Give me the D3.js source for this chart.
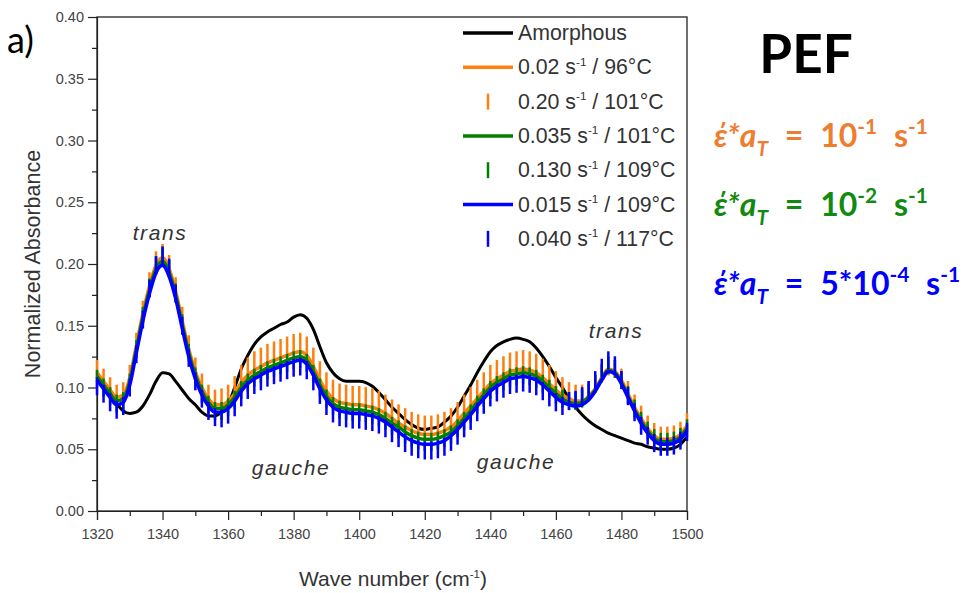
<!DOCTYPE html>
<html><head><meta charset="utf-8">
<script src="https://cdn.jsdelivr.net/npm/d3@7"></script>
<style>body{margin:0;background:#fff}svg{display:block}</style>
</head><body><svg id="c" width="976" height="593"></svg>
<script>
// sampling grid of the spectra (cm^-1)
const wavenumbers = d3.range(1320, 1501, 2);

const amorphous = [0.107,0.101,0.094,0.087,0.081,0.079,0.080,0.085,0.094,0.105,0.112,0.111,0.105,0.098,0.091,0.086,0.080,0.077,0.077,0.080,
0.086,0.100,0.115,0.126,0.135,0.141,0.145,0.148,0.151,0.153,0.157,0.159,0.156,0.147,0.133,0.120,0.112,0.107,0.105,0.105,
0.105,0.104,0.101,0.096,0.090,0.084,0.079,0.074,0.070,0.067,0.066,0.067,0.068,0.072,0.077,0.084,0.093,0.102,0.112,0.121,
0.129,0.134,0.137,0.139,0.140,0.139,0.137,0.132,0.125,0.117,0.108,0.100,0.091,0.084,0.078,0.073,0.069,0.066,0.063,0.061,
0.059,0.057,0.055,0.054,0.052,0.051,0.050,0.050,0.051,0.054,0.060];

const orangeLine = [0.112,0.105,0.098,0.092,0.094,0.108,0.134,0.160,0.182,0.199,0.205,0.196,0.178,0.154,0.131,0.113,0.100,0.091,0.086,0.086,
0.089,0.095,0.104,0.110,0.114,0.117,0.120,0.122,0.124,0.126,0.128,0.129,0.126,0.117,0.106,0.097,0.091,0.088,0.087,0.086,
0.086,0.085,0.084,0.082,0.079,0.075,0.071,0.068,0.065,0.063,0.062,0.062,0.063,0.065,0.068,0.073,0.079,0.085,0.091,0.097,
0.103,0.107,0.110,0.113,0.114,0.115,0.114,0.112,0.108,0.103,0.098,0.094,0.091,0.089,0.089,0.093,0.099,0.108,0.115,0.113,
0.106,0.095,0.084,0.075,0.067,0.061,0.058,0.058,0.059,0.062,0.069];

const orangeTicks = [0.115,0.108,0.101,0.095,0.097,0.111,0.137,0.163,0.186,0.203,0.209,0.200,0.182,0.158,0.135,0.117,0.104,0.095,0.091,0.092,
0.095,0.102,0.111,0.117,0.122,0.125,0.128,0.130,0.132,0.134,0.136,0.137,0.134,0.125,0.114,0.105,0.099,0.096,0.095,0.094,
0.094,0.093,0.092,0.090,0.087,0.083,0.079,0.076,0.073,0.071,0.070,0.070,0.071,0.073,0.076,0.081,0.087,0.093,0.099,0.105,
0.111,0.115,0.118,0.121,0.122,0.123,0.122,0.120,0.116,0.111,0.106,0.101,0.097,0.095,0.095,0.098,0.103,0.111,0.117,0.115,
0.108,0.098,0.087,0.078,0.070,0.064,0.061,0.061,0.062,0.065,0.072];

const greenLine = [0.109,0.102,0.095,0.089,0.091,0.105,0.131,0.157,0.179,0.196,0.202,0.193,0.175,0.151,0.128,0.110,0.097,0.088,0.083,0.083,
0.086,0.092,0.100,0.106,0.110,0.113,0.116,0.118,0.120,0.122,0.124,0.125,0.122,0.113,0.102,0.093,0.087,0.084,0.083,0.082,
0.082,0.081,0.080,0.078,0.075,0.071,0.068,0.064,0.061,0.059,0.058,0.058,0.059,0.061,0.064,0.069,0.075,0.081,0.088,0.094,
0.100,0.104,0.107,0.110,0.111,0.112,0.111,0.109,0.105,0.100,0.095,0.091,0.088,0.087,0.088,0.092,0.098,0.107,0.114,0.112,
0.104,0.093,0.082,0.073,0.065,0.059,0.056,0.056,0.057,0.060,0.067];

const greenTicks = [0.107,0.100,0.093,0.087,0.089,0.104,0.131,0.158,0.181,0.199,0.206,0.196,0.177,0.152,0.128,0.109,0.095,0.086,0.081,0.081,
0.084,0.090,0.098,0.104,0.108,0.111,0.114,0.116,0.118,0.120,0.122,0.123,0.120,0.111,0.100,0.091,0.085,0.082,0.081,0.080,
0.080,0.079,0.078,0.076,0.073,0.069,0.066,0.062,0.059,0.057,0.056,0.056,0.057,0.059,0.062,0.067,0.073,0.079,0.086,0.092,
0.098,0.102,0.105,0.108,0.109,0.110,0.109,0.107,0.103,0.099,0.094,0.091,0.089,0.089,0.091,0.096,0.103,0.112,0.118,0.115,
0.106,0.094,0.083,0.073,0.065,0.059,0.056,0.056,0.057,0.060,0.067];

const blueLine = [0.106,0.099,0.092,0.086,0.088,0.102,0.128,0.154,0.176,0.193,0.199,0.190,0.172,0.148,0.125,0.107,0.094,0.085,0.080,0.080,
0.083,0.089,0.097,0.103,0.107,0.110,0.113,0.115,0.117,0.119,0.121,0.122,0.119,0.110,0.099,0.090,0.084,0.081,0.080,0.079,
0.079,0.078,0.077,0.075,0.072,0.068,0.064,0.060,0.057,0.055,0.054,0.054,0.055,0.057,0.061,0.066,0.072,0.078,0.085,0.091,
0.097,0.101,0.104,0.107,0.108,0.109,0.108,0.106,0.102,0.097,0.092,0.088,0.086,0.085,0.086,0.090,0.097,0.106,0.113,0.111,
0.103,0.092,0.081,0.071,0.063,0.057,0.054,0.054,0.055,0.058,0.065];

const blueTicks = [0.101,0.095,0.088,0.082,0.085,0.100,0.127,0.155,0.180,0.199,0.207,0.197,0.176,0.150,0.124,0.105,0.091,0.081,0.076,0.075,
0.078,0.084,0.092,0.098,0.102,0.105,0.108,0.110,0.112,0.114,0.116,0.117,0.114,0.105,0.094,0.085,0.079,0.076,0.075,0.074,
0.074,0.073,0.072,0.070,0.067,0.063,0.059,0.055,0.052,0.050,0.049,0.049,0.050,0.052,0.056,0.061,0.067,0.073,0.080,0.086,
0.092,0.096,0.099,0.102,0.103,0.104,0.103,0.101,0.097,0.092,0.088,0.085,0.089,0.090,0.093,0.098,0.106,0.116,0.122,0.118,
0.106,0.093,0.080,0.069,0.061,0.055,0.052,0.052,0.053,0.057,0.064];

const legendLabels = [
  [["Amorphous"]],
  [["0.02 s"],["-1","sup"],[" / 96°C"]],
  [["0.20 s"],["-1","sup"],[" / 101°C"]],
  [["0.035 s"],["-1","sup"],[" / 101°C"]],
  [["0.130 s"],["-1","sup"],[" / 109°C"]],
  [["0.015 s"],["-1","sup"],[" / 109°C"]],
  [["0.040 s"],["-1","sup"],[" / 117°C"]]
];
const seriesColors = ["#000000","#FF7F0E","#FF7F0E","#008000","#008000","#0000FF","#0000FF"];
const seriesKinds = ["line","line","ticks","line","ticks","line","ticks"];
const seriesValues = [amorphous, orangeLine, orangeTicks, greenLine, greenTicks, blueLine, blueTicks];

const yTicks = [0,0.05,0.10,0.15,0.20,0.25,0.30,0.35,0.40];
const xTicks = [1320,1340,1360,1380,1400,1420,1440,1460,1480,1500];

const svg = d3.select("#c");
const x = d3.scaleLinear().domain([1320,1500]).range([97,687]);
const y = d3.scaleLinear().domain([0,0.4]).range([511,17]);
const font = "'Liberation Sans', Arial, sans-serif";
const txt = "#333";

// axes
const yMinor = d3.range(0.025,0.4,0.05);
const xMinor = d3.range(1330,1500,20);
const gy = svg.append("g").attr("transform","translate(97,0)");
gy.call(d3.axisLeft(y).tickValues(yTicks).tickFormat(d3.format(".2f")).tickSize(9).tickPadding(4));
const gym = svg.append("g").attr("transform","translate(97,0)");
gym.call(d3.axisLeft(y).tickValues(yMinor).tickFormat("").tickSize(5));
gym.select(".domain").remove();
const gx = svg.append("g").attr("transform","translate(0,511)");
gx.call(d3.axisBottom(x).tickValues(xTicks).tickFormat(d3.format("d")).tickSize(9).tickPadding(9));
const gxm = svg.append("g").attr("transform","translate(0,511)");
gxm.call(d3.axisBottom(x).tickValues(xMinor).tickFormat("").tickSize(5));
gxm.select(".domain").remove();
svg.selectAll(".tick text").attr("font-family",font).attr("font-size",14.5).attr("fill","#444");
svg.selectAll(".tick line, .domain").attr("stroke","#222").attr("stroke-width",1.2);
svg.append("rect").attr("x",x(1320)).attr("y",y(0.4)).attr("width",x(1500)-x(1320)).attr("height",y(0)-y(0.4))
  .attr("fill","none").attr("stroke","#222").attr("stroke-width",1.3);

// series
const plot = svg.append("g");
const line = d3.line().x((d,i)=>x(wavenumbers[i])).y(d=>y(d)).curve(d3.curveMonotoneX);
seriesValues.forEach((vals,k)=>{
  if (seriesKinds[k]==="line") {
    plot.append("path").datum(vals).attr("d",line).attr("fill","none")
      .attr("stroke",seriesColors[k]).attr("stroke-width",k===0?3:3.5).attr("stroke-linejoin","round");
  } else {
    plot.append("g").selectAll("line").data(vals).join("line")
      .attr("x1",(d,i)=>x(wavenumbers[i])).attr("x2",(d,i)=>x(wavenumbers[i]))
      .attr("y1",d=>y(d)-9).attr("y2",d=>y(d)+9)
      .attr("stroke",seriesColors[k]).attr("stroke-width",2.5);
  }
});

// rich text helper
function rich(sel, parts, xx, yy, size, attrs, supScale) {
  const sc = supScale || 0.6;
  const t = sel.append("text").attr("x",xx).attr("y",yy).attr("font-size",size);
  Object.entries(attrs||{}).forEach(([a,v])=>t.attr(a,v));
  let shift = 0;
  parts.forEach(p=>{
    const kind = p[1];
    const s = kind==="sup" ? -size*0.4 : kind==="sub" ? size*0.28 : 0;
    const ts = t.append("tspan").attr("dy", s-shift).text(p[0]);
    if (kind==="sup"||kind==="sub") ts.attr("font-size", size*sc);
    if (p[2]) ts.attr("font-style","italic");
    shift = s;
  });
  return t;
}

// legend
const lg = svg.append("g");
legendLabels.forEach((lab,i)=>{
  const cy = 33 + i*34.3;
  if (seriesKinds[i]==="line") {
    lg.append("line").attr("x1",463).attr("x2",513).attr("y1",cy).attr("y2",cy)
      .attr("stroke",seriesColors[i]).attr("stroke-width",3.5);
  } else {
    lg.append("line").attr("x1",488).attr("x2",488).attr("y1",cy-8).attr("y2",cy+8)
      .attr("stroke",seriesColors[i]).attr("stroke-width",2.5);
  }
  rich(lg, lab, 518, cy+7, 21.3, {"font-family":font,"fill":txt}, 0.55);
});

// annotations
const ann = [["trans",160,240],["gauche",291,475],["gauche",516,469],["trans",616,338]];
ann.forEach(a=>svg.append("text").attr("x",a[1]).attr("y",a[2]).attr("text-anchor","middle")
  .attr("font-family",font).attr("font-size",21).attr("font-style","italic").attr("letter-spacing",1.6)
  .attr("fill",txt).text(a[0]));

// axis titles
svg.append("text").attr("transform","translate(40,264) rotate(-90)").attr("text-anchor","middle")
  .attr("font-family",font).attr("font-size",21.5).attr("fill",txt).text("Normalized Absorbance");
rich(svg, [["Wave number (cm"],["-1","sup"],[")"]], 393, 586, 21, {"font-family":font,"fill":txt,"text-anchor":"middle"}, 0.55);

// panel label and side annotation
const cal = "Lato, 'Open Sans', sans-serif";
svg.append("text").attr("x",7).attr("y",53).attr("font-family",cal).attr("font-size",36).attr("fill","#000").text("a)");
svg.append("text").attr("x",806).attr("y",73).attr("text-anchor","middle").attr("font-family",cal)
  .attr("font-weight","bold").attr("font-size",53).attr("fill","#000").text("PEF");
const sideLines = [
  {color:"#ED7D31", y:147, parts:[["έ*",null,true],["a",null,true],["T","sub",true],[" = 10"],["-1","sup"],[" s"],["-1","sup"]]},
  {color:"#118A11", y:216, parts:[["έ*",null,true],["a",null,true],["T","sub",true],[" = 10"],["-2","sup"],[" s"],["-1","sup"]]},
  {color:"#0000FF", y:295, parts:[["έ*",null,true],["a",null,true],["T","sub",true],[" = 5*10"],["-4","sup"],[" s"],["-1","sup"]]}
];
sideLines.forEach(s=>rich(svg, s.parts, 714, s.y, 32, {"font-family":cal,"font-weight":"bold","fill":s.color,
  "word-spacing":9}, 0.65));
</script></body></html>
